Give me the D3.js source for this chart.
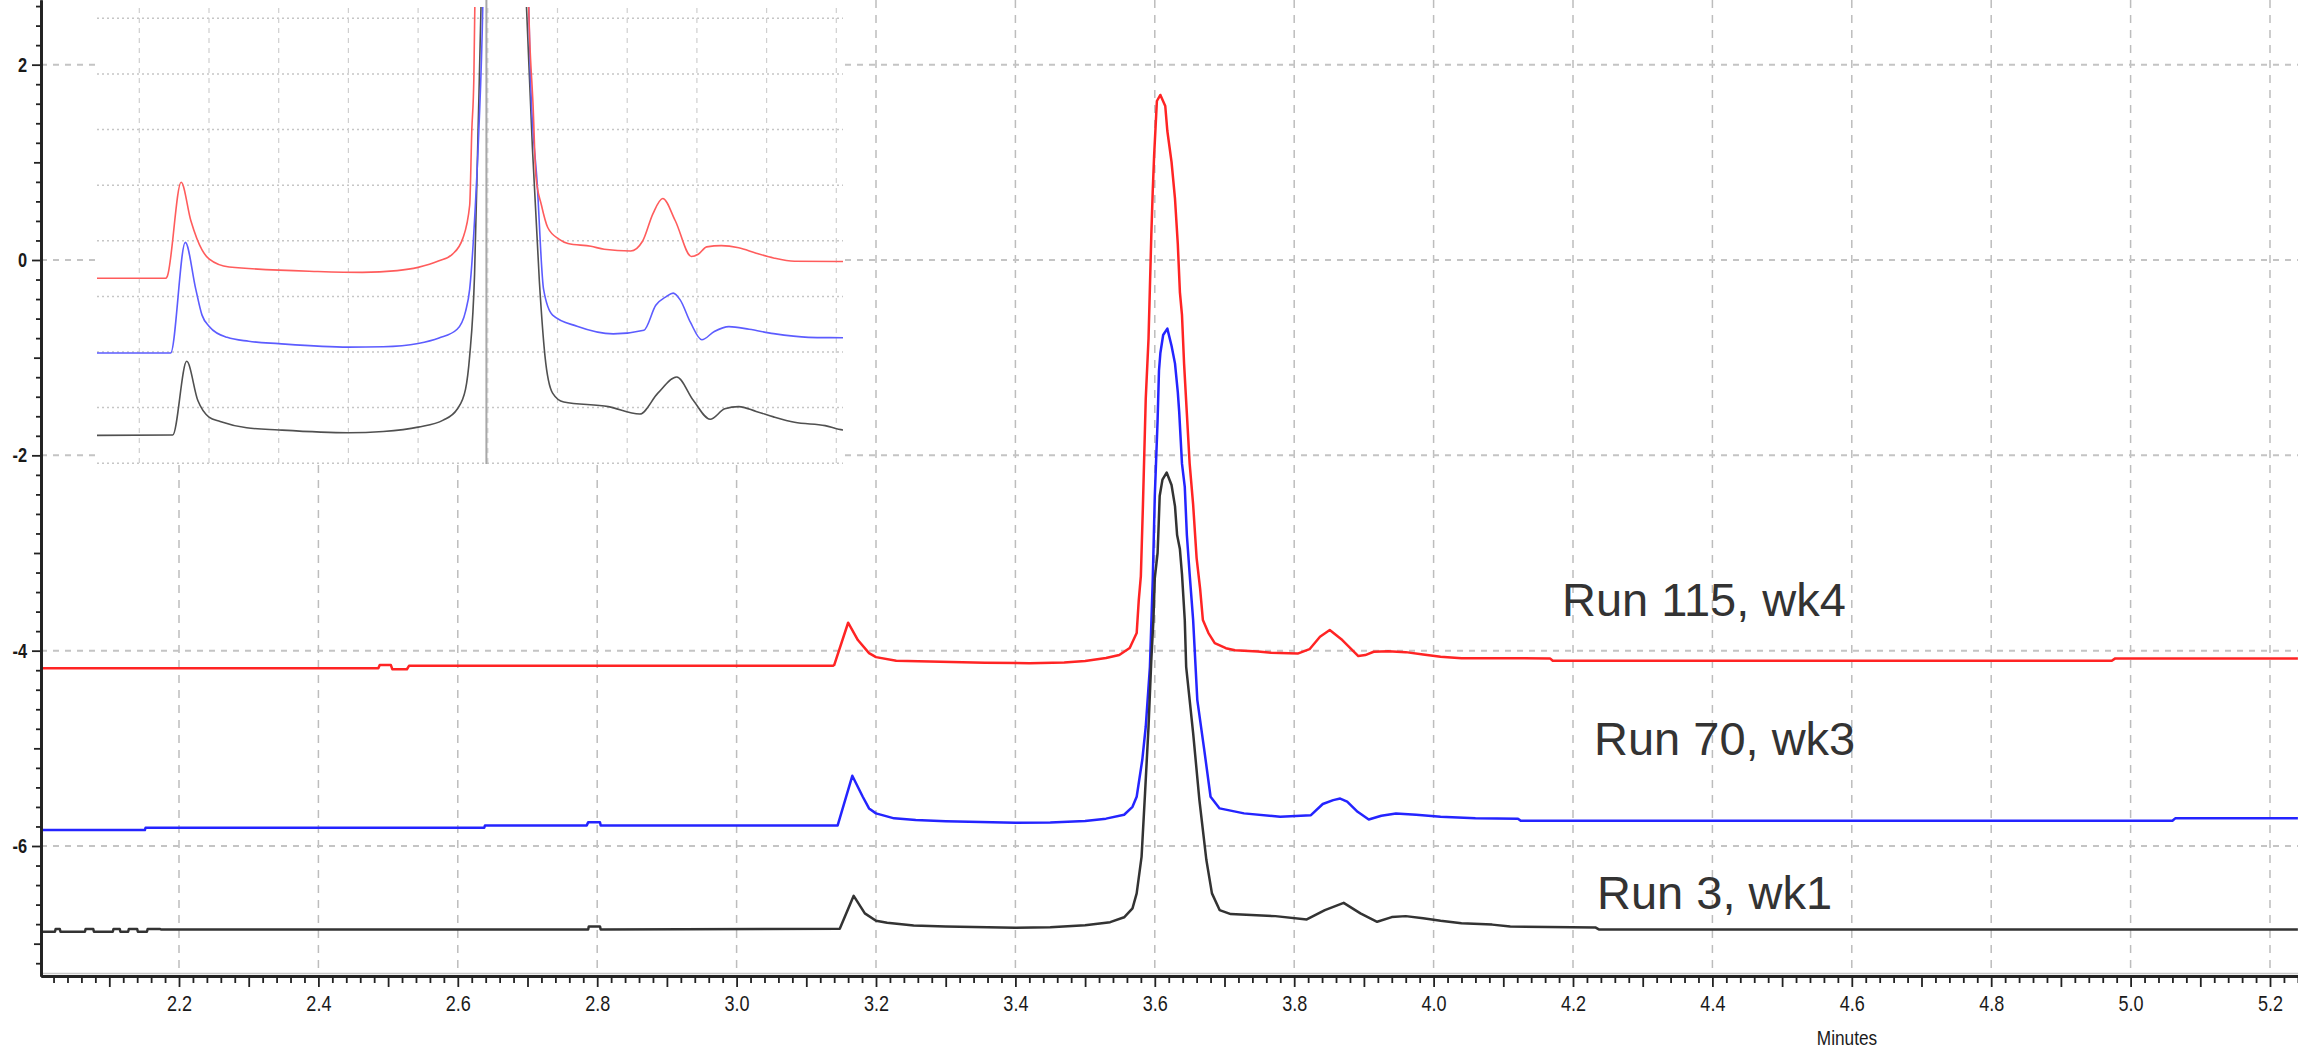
<!DOCTYPE html>
<html><head><meta charset="utf-8">
<script src="https://cdn.jsdelivr.net/npm/d3@7"></script>
<style>
html,body{margin:0;padding:0;background:#fff;}
svg{display:block;}
</style></head><body>
<svg id="chart" width="2298" height="1050"></svg>
<script>
// ---------------- DATA (time in minutes, signal in chart units) ----------------
const redTime = [2.002,2.486,2.488,2.504,2.506,2.527,2.530,3.138,3.140,3.160,3.174,3.190,3.200,3.229,3.356,3.420,3.470,3.500,3.530,3.549,3.564,3.574,3.577,3.580,3.583,3.587,3.591,3.595,3.597,3.599,3.603,3.608,3.615,3.618,3.624,3.629,3.633,3.636,3.639,3.642,3.646,3.650,3.655,3.660,3.665,3.669,3.677,3.686,3.702,3.715,3.748,3.767,3.805,3.822,3.837,3.851,3.869,3.892,3.902,3.914,3.935,3.960,3.985,4.010,4.040,4.167,4.171,4.973,4.978,5.240];
const redValue = [-4.181,-4.181,-4.147,-4.147,-4.190,-4.190,-4.155,-4.155,-4.147,-3.714,-3.891,-4.025,-4.066,-4.103,-4.124,-4.128,-4.120,-4.105,-4.075,-4.045,-3.973,-3.820,-3.482,-3.236,-2.505,-1.423,-0.805,0.256,0.696,1.065,1.628,1.690,1.577,1.321,1.004,0.625,0.164,-0.328,-0.563,-1.061,-1.573,-2.085,-2.505,-3.052,-3.365,-3.687,-3.820,-3.922,-3.975,-3.995,-4.008,-4.022,-4.030,-3.985,-3.858,-3.789,-3.891,-4.055,-4.045,-4.011,-4.005,-4.015,-4.040,-4.062,-4.077,-4.079,-4.103,-4.103,-4.079,-4.079];

const blueTime = [2.002,2.151,2.152,2.638,2.639,2.785,2.787,2.804,2.805,3.145,3.166,3.181,3.190,3.200,3.226,3.257,3.300,3.400,3.450,3.500,3.530,3.556,3.568,3.574,3.582,3.587,3.593,3.597,3.600,3.604,3.606,3.608,3.612,3.618,3.624,3.629,3.633,3.635,3.639,3.643,3.646,3.650,3.655,3.661,3.671,3.680,3.693,3.728,3.780,3.824,3.841,3.856,3.866,3.876,3.891,3.907,3.925,3.946,3.975,4.010,4.060,4.121,4.125,5.060,5.064,5.240];
const blueValue = [-5.837,-5.837,-5.813,-5.813,-5.789,-5.789,-5.758,-5.758,-5.789,-5.789,-5.281,-5.496,-5.615,-5.666,-5.717,-5.735,-5.746,-5.762,-5.760,-5.745,-5.720,-5.680,-5.599,-5.496,-5.120,-4.779,-4.165,-3.287,-2.417,-1.646,-1.134,-0.952,-0.768,-0.703,-0.878,-1.061,-1.352,-1.555,-2.085,-2.323,-2.816,-3.216,-3.687,-4.506,-5.018,-5.496,-5.615,-5.666,-5.701,-5.684,-5.570,-5.530,-5.514,-5.545,-5.650,-5.728,-5.690,-5.668,-5.680,-5.700,-5.717,-5.720,-5.742,-5.742,-5.717,-5.717];

const blackTime = [2.002,2.022,2.023,2.029,2.030,2.065,2.066,2.077,2.078,2.105,2.106,2.115,2.116,2.127,2.128,2.140,2.141,2.154,2.155,2.173,2.174,2.787,2.788,2.804,2.805,3.148,3.168,3.184,3.200,3.216,3.254,3.300,3.400,3.450,3.500,3.536,3.556,3.568,3.574,3.581,3.586,3.591,3.595,3.598,3.600,3.604,3.605,3.607,3.611,3.617,3.624,3.629,3.632,3.636,3.639,3.643,3.645,3.655,3.664,3.674,3.682,3.693,3.709,3.773,3.818,3.844,3.871,3.895,3.919,3.940,3.960,3.985,4.010,4.040,4.084,4.110,4.232,4.237,5.240];
const blackValue = [-6.878,-6.878,-6.851,-6.851,-6.878,-6.878,-6.851,-6.851,-6.878,-6.878,-6.851,-6.851,-6.878,-6.878,-6.851,-6.851,-6.878,-6.878,-6.851,-6.851,-6.854,-6.854,-6.823,-6.823,-6.854,-6.848,-6.510,-6.690,-6.766,-6.786,-6.815,-6.825,-6.838,-6.832,-6.812,-6.780,-6.730,-6.639,-6.485,-6.111,-5.458,-4.779,-4.096,-3.687,-3.257,-3.000,-2.816,-2.417,-2.249,-2.176,-2.304,-2.523,-2.816,-2.960,-3.216,-3.687,-4.165,-4.844,-5.530,-6.144,-6.485,-6.656,-6.697,-6.718,-6.752,-6.656,-6.582,-6.690,-6.776,-6.728,-6.718,-6.740,-6.765,-6.790,-6.805,-6.825,-6.834,-6.854,-6.854];

const seriesNames = ["Run 115, wk4", "Run 70, wk3", "Run 3, wk1"];
const insetOffsets = [0, 1.291, 1.974];          // display offsets used in the zoomed inset
const xTickLabels = [2.2,2.4,2.6,2.8,3.0,3.2,3.4,3.6,3.8,4.0,4.2,4.4,4.6,4.8,5.0,5.2];
const yTickLabels = [2,0,-2,-4,-6];
const insetGridTimes = [3.1,3.2,3.3,3.4,3.5,3.6,3.7,3.8,3.9,4.0,4.1];
const insetCursorTime = 3.598;
const xAxisTitle = "Minutes";

// ---------------- LAYOUT ----------------
const W = 2298, H = 1050, left = 41, bottom = 976;
const svg = d3.select('#chart');
const x0 = d3.scaleLinear().domain([2.2, 5.2]).range([179, 2270]);
const y0 = d3.scaleLinear().domain([0, -6]).range([260, 846]);
const x = x0.copy().domain([x0.invert(left), x0.invert(W)]).range([left, W]);
const y = y0.copy().domain([y0.invert(bottom), y0.invert(0)]).range([bottom, 0]);

const series = [
  {t: redTime, v: redValue, main: "#ff2424", inset: "#ff5c5c"},
  {t: blueTime, v: blueValue, main: "#2424ff", inset: "#5c5cff"},
  {t: blackTime, v: blackValue, main: "#333333", inset: "#505050"}
].map((s, i) => ({...s, name: seriesNames[i], off: insetOffsets[i], pts: s.t.map((tt, j) => [tt, s.v[j]])}));

const defs = svg.append('defs');
defs.append('clipPath').attr('id', 'mainClip').append('rect')
  .attr('x', left).attr('y', 0).attr('width', W - left).attr('height', bottom);

// ---------------- GRID ----------------
const grid = svg.append('g');
grid.selectAll('line.vg').data(xTickLabels).join('line')
  .attr('x1', d => x(d)).attr('x2', d => x(d)).attr('y1', 0).attr('y2', bottom)
  .attr('stroke', '#bdbdbd').attr('stroke-width', 1.5).attr('stroke-dasharray', '8,7');
grid.selectAll('line.hg').data(yTickLabels).join('line')
  .attr('x1', left).attr('x2', W).attr('y1', d => y(d)).attr('y2', d => y(d))
  .attr('stroke', '#c4c4c4').attr('stroke-width', 2).attr('stroke-dasharray', '6,6');

// ---------------- MAIN TRACES ----------------
const line = d3.line().x(d => x(d[0])).y(d => y(d[1]));
svg.append('g').attr('clip-path', 'url(#mainClip)')
  .selectAll('path').data(series).join('path')
  .attr('d', d => line(d.pts)).attr('fill', 'none')
  .attr('stroke', d => d.main).attr('stroke-width', 2.5).attr('stroke-linejoin', 'round');

// ---------------- INSET ----------------
const insetBox = {x0: 95, x1: 843, y0: 0, y1: 465};
const ix = x0.copy().range([179 - 667, 2270 - 667]);
const iy = d3.scaleLinear().domain([-4.998, -2.878]).range([462, 0]);
const inset = svg.append('g');
inset.append('rect').attr('x', insetBox.x0).attr('y', insetBox.y0)
  .attr('width', insetBox.x1 - insetBox.x0).attr('height', insetBox.y1 - insetBox.y0).attr('fill', '#fff');
defs.append('clipPath').attr('id', 'insetClip').append('rect')
  .attr('x', 97).attr('y', 7).attr('width', insetBox.x1 - 97).attr('height', insetBox.y1 - 7);
const insetRows = d3.range(9).map(k => -2.962 - 0.2552 * k);
inset.selectAll('line.ih').data(insetRows).join('line')
  .attr('x1', 97).attr('x2', insetBox.x1).attr('y1', d => iy(d)).attr('y2', d => iy(d))
  .attr('stroke', '#c6c6c6').attr('stroke-width', 1.5).attr('stroke-dasharray', '2,3');
inset.selectAll('line.iv').data(insetGridTimes).join('line')
  .attr('x1', d => ix(d)).attr('x2', d => ix(d)).attr('y1', 8).attr('y2', insetBox.y1)
  .attr('stroke', '#cfcfcf').attr('stroke-width', 1.2).attr('stroke-dasharray', '5,5');
inset.append('line').attr('x1', ix(insetCursorTime)).attr('x2', ix(insetCursorTime))
  .attr('y1', 0).attr('y2', 464).attr('stroke', '#a8a8a8').attr('stroke-width', 2);
const iline = d3.line().curve(d3.curveMonotoneX);
inset.append('g').attr('clip-path', 'url(#insetClip)')
  .selectAll('path').data(series.slice().reverse()).join('path')
  .attr('d', d => iline(d.pts.map(p => [ix(p[0]), iy(p[1] + d.off)])))
  .attr('fill', 'none').attr('stroke', d => d.inset).attr('stroke-width', 1.6);

// ---------------- AXES ----------------
const axFont = 'Liberation Sans, Arial, sans-serif';
const xi = d3.range(101, 263).filter(i => i / 50 <= x.domain()[1] + 1e-9);
const xMinor = xi.filter(i => i % 5 !== 0).map(i => i / 50);
const xMid = xi.filter(i => i % 5 === 0 && i % 10 !== 0).map(i => i / 50);
const gx = svg.append('g').attr('transform', `translate(0,${bottom})`);
gx.append('g').call(d3.axisBottom(x).tickValues(xMinor).tickSize(7).tickSizeOuter(0).tickFormat(''));
gx.append('g').call(d3.axisBottom(x).tickValues(xMid).tickSize(11).tickSizeOuter(0).tickFormat(''));
gx.append('g').call(d3.axisBottom(x).tickValues(xTickLabels).tickSize(11).tickSizeOuter(0).tickPadding(8).tickFormat(d3.format('.1f')));
gx.selectAll('.domain').attr('stroke', '#222').attr('stroke-width', 2.5);
gx.selectAll('.tick line').attr('stroke', '#222').attr('stroke-width', 1.8);
gx.selectAll('.tick text').attr('font-family', axFont).attr('font-size', 22).attr('fill', '#1a1a1a')
  .attr('transform', 'scale(0.82,1)');
svg.append('line').attr('x1', left).attr('x2', W).attr('y1', bottom - 2.5).attr('y2', bottom - 2.5)
  .attr('stroke', '#c8c8c8').attr('stroke-width', 1.5);

const yi = d3.range(-36, 14);
const yMinor = yi.filter(i => i % 5 !== 0).map(i => i / 5);
const yOdd = yi.filter(i => i % 5 === 0 && (i / 5) % 2 !== 0).map(i => i / 5);
const gy = svg.append('g').attr('transform', `translate(${left},0)`);
gy.append('g').call(d3.axisLeft(y).tickValues(yMinor).tickSize(5).tickSizeOuter(0).tickFormat(''));
gy.append('g').call(d3.axisLeft(y).tickValues(yOdd).tickSize(7).tickSizeOuter(0).tickFormat(''));
gy.append('g').call(d3.axisLeft(y).tickValues(yTickLabels).tickSize(9).tickSizeOuter(0).tickPadding(5).tickFormat(d => String(d)));
gy.selectAll('.domain').attr('stroke', '#222').attr('stroke-width', 2.5);
gy.selectAll('.tick line').attr('stroke', '#222').attr('stroke-width', 1.8);
gy.selectAll('.tick text').attr('font-family', axFont).attr('font-size', 20).attr('font-weight', 'bold')
  .attr('fill', '#1a1a1a').attr('x', 0).attr('transform', 'translate(-14,0) scale(0.82,1)');

svg.append('text').attr('x', 1847).attr('y', 1045).attr('text-anchor', 'middle')
  .attr('font-family', axFont).attr('font-size', 21).attr('fill', '#1a1a1a')
  .attr('transform', 'translate(1847,0) scale(0.82,1) translate(-1847,0)').text(xAxisTitle);

// ---------------- SERIES LABELS ----------------
const labelPos = [[1562, 616], [1594, 755], [1597, 909]];
svg.selectAll('text.lab').data(series).join('text')
  .attr('x', (d, i) => labelPos[i][0]).attr('y', (d, i) => labelPos[i][1])
  .attr('font-family', axFont).attr('font-size', 47).attr('fill', '#333').text(d => d.name);
</script>
</body></html>
